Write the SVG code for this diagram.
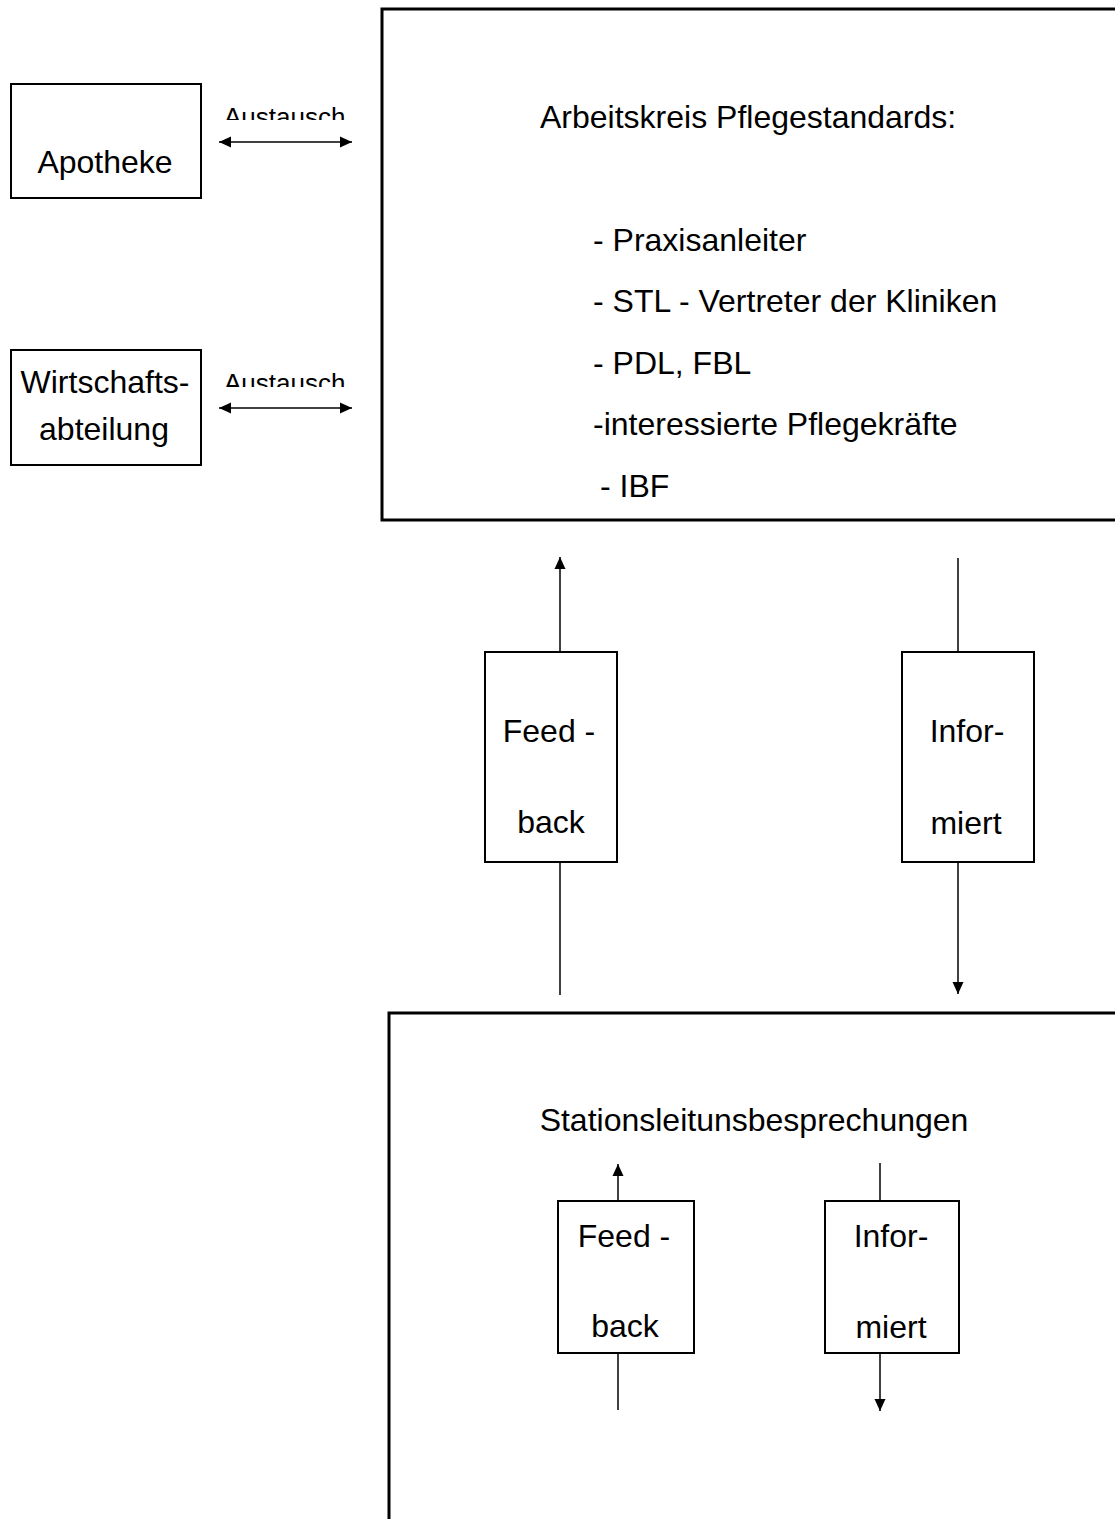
<svg xmlns="http://www.w3.org/2000/svg" width="1115" height="1519" viewBox="0 0 1115 1519">
  <style>
    text { font-family: "Liberation Sans", Arial, sans-serif; fill: #000; }
    .t { font-size: 32px; }
    .m { text-anchor: middle; }
    .lbl { font-size: 26px; }
    .box { fill: #fff; stroke: #000; stroke-width: 2; }
    .big { fill: none; stroke: #000; stroke-width: 3; }
    .ln { stroke: #000; stroke-width: 1.5; fill: none; }
  </style>
  <defs>
    <marker id="ah" viewBox="0 0 12 12" refX="12" refY="6" markerWidth="12" markerHeight="12" markerUnits="userSpaceOnUse" orient="auto-start-reverse">
      <path d="M0,0.5 L12,6 L0,11.5 Z" fill="#000"/>
    </marker>
    <clipPath id="clipA1"><rect x="200" y="95" width="170" height="25"/></clipPath>
    <clipPath id="clipA2"><rect x="200" y="360" width="170" height="27"/></clipPath>
  </defs>
  <rect width="1115" height="1519" fill="#fff"/>

  <g id="apotheke">
    <rect class="box" x="11" y="84" width="190" height="114"/>
    <text class="t m" x="105" y="173">Apotheke</text>
  </g>

  <g id="wirtschaftsabteilung">
    <rect class="box" x="11" y="350" width="190" height="115"/>
    <text class="t m" x="105" y="393">Wirtschafts-</text>
    <text class="t m" x="104" y="440">abteilung</text>
  </g>

  <g id="arbeitskreis">
    <rect class="big" x="382" y="9" width="740" height="511"/>
    <text class="t" x="540" y="128">Arbeitskreis Pflegestandards:</text>
    <text class="t" x="593" y="251">- Praxisanleiter</text>
    <text class="t" x="593" y="312">- STL - Vertreter der Kliniken</text>
    <text class="t" x="593" y="374">- PDL, FBL</text>
    <text class="t" x="593" y="435">-interessierte Pflegekräfte</text>
    <text class="t" x="600" y="497">- IBF</text>
  </g>

  <g id="feedback-1">
    <rect class="box" x="485" y="652" width="132" height="210"/>
    <text class="t m" x="549" y="742">Feed -</text>
    <text class="t m" x="551" y="833">back</text>
  </g>

  <g id="informiert-1">
    <rect class="box" x="902" y="652" width="132" height="210"/>
    <text class="t m" x="967" y="742">Infor-</text>
    <text class="t m" x="966" y="834">miert</text>
  </g>

  <g id="stationsleitung">
    <rect class="big" x="389" y="1013" width="740" height="520"/>
    <text class="t m" x="754" y="1131">Stationsleitunsbesprechungen</text>
  </g>

  <g id="feedback-2">
    <rect class="box" x="558" y="1201" width="136" height="152"/>
    <text class="t m" x="624" y="1247">Feed -</text>
    <text class="t m" x="625" y="1337">back</text>
  </g>

  <g id="informiert-2">
    <rect class="box" x="825" y="1201" width="134" height="152"/>
    <text class="t m" x="891" y="1247">Infor-</text>
    <text class="t m" x="891" y="1338">miert</text>
  </g>

  <g id="connectors">
    <line class="ln" x1="219" y1="142" x2="352" y2="142" marker-start="url(#ah)" marker-end="url(#ah)"/>
    <line class="ln" x1="219" y1="408" x2="352" y2="408" marker-start="url(#ah)" marker-end="url(#ah)"/>
    <line class="ln" x1="560" y1="652" x2="560" y2="557" marker-end="url(#ah)"/>
    <line class="ln" x1="560" y1="995" x2="560" y2="862"/>
    <line class="ln" x1="958" y1="558" x2="958" y2="652"/>
    <line class="ln" x1="958" y1="862" x2="958" y2="994" marker-end="url(#ah)"/>
    <line class="ln" x1="618" y1="1201" x2="618" y2="1164" marker-end="url(#ah)"/>
    <line class="ln" x1="618" y1="1353" x2="618" y2="1410"/>
    <line class="ln" x1="880" y1="1163" x2="880" y2="1201"/>
    <line class="ln" x1="880" y1="1353" x2="880" y2="1411" marker-end="url(#ah)"/>
    <text class="lbl" x="224" y="126" clip-path="url(#clipA1)">Austausch</text>
    <text class="lbl" x="224" y="392" clip-path="url(#clipA2)">Austausch</text>
  </g>
</svg>
